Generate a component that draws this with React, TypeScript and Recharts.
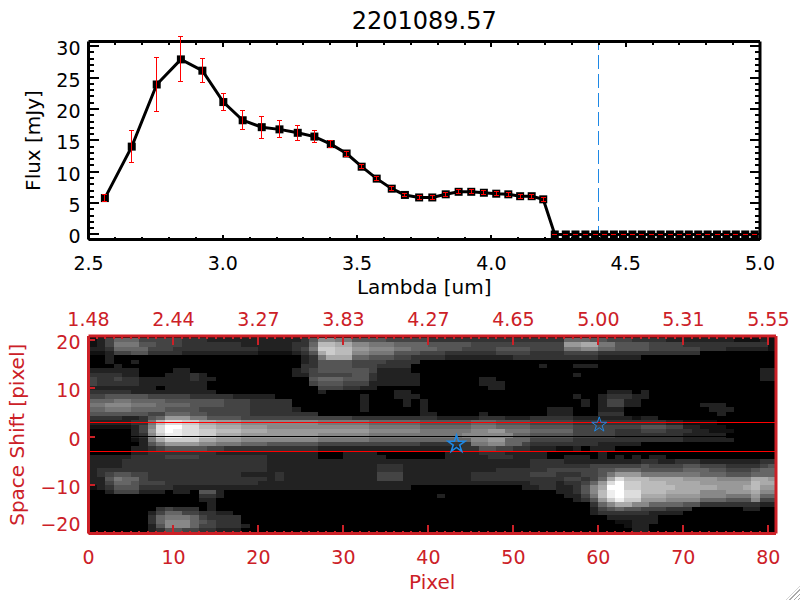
import React from 'react';
import { ComposedChart, Line, ErrorBar, XAxis, YAxis, ReferenceArea, ReferenceLine, Scatter, Symbols } from 'recharts';

// spectrum (top panel)
const lambdaValues = [
  2.561, 2.661, 2.754, 2.844, 2.924, 3.002, 3.074, 3.145, 3.211, 3.279, 3.341, 3.402, 3.461, 3.517, 3.573, 3.629,
  3.678, 3.731, 3.78, 3.83, 3.878, 3.925, 3.972, 4.018, 4.063, 4.107, 4.15, 4.193, 4.236, 4.277, 4.313, 4.35, 4.386,
  4.42, 4.456, 4.49, 4.525, 4.56, 4.595, 4.63, 4.665, 4.7, 4.735, 4.77, 4.805, 4.84, 4.875, 4.91, 4.945, 4.98,
];
const fluxValues = [
  5.8, 14.0, 23.9, 27.9, 26.1, 21.1, 18.2, 17.1, 16.75, 16.2, 15.6, 14.4, 12.9, 10.8, 8.9, 7.3,
  6.3, 5.9, 5.9, 6.4, 6.8, 6.8, 6.65, 6.5, 6.4, 6.1, 6.1, 5.6, 0, 0, 0, 0, 0,
  0, 0, 0, 0, 0, 0, 0, 0, 0, 0, 0, 0, 0, 0, 0, 0, 0,
];
const fluxErrors = [
  0.55, 2.5, 4.25, 3.6, 1.9, 1.3, 1.5, 1.75, 1.35, 1.2, 0.9, 0.6, 0.4, 0.35, 0.3, 0.3,
  0.3, 0.3, 0.3, 0.3, 0.3, 0.3, 0.3, 0.3, 0.3, 0.3, 0.3, 0.35, 0.01, 0.01, 0.01, 0.01, 0.01,
  0.01, 0.01, 0.01, 0.01, 0.01, 0.01, 0.01, 0.01, 0.01, 0.01, 0.01, 0.01, 0.01, 0.01, 0.01, 0.01, 0.01,
];
const lambdaMajor = [2.5, 3, 3.5, 4, 4.5, 5];
const lambdaTicks = [
  2.5, 2.6, 2.7, 2.8, 2.9, 3, 3.1, 3.2, 3.3, 3.4, 3.5, 3.6, 3.7, 3.8, 3.9, 4, 4.1, 4.2, 4.3, 4.4, 4.5, 4.6, 4.7, 4.8, 4.9, 5,
];
const fluxMajor = [0, 5, 10, 15, 20, 25, 30];
const fluxTicks = [
  0, 1, 2, 3, 4, 5, 6, 7, 8, 9, 10, 11, 12, 13, 14, 15, 16, 17, 18, 19, 20, 21, 22, 23, 24, 25, 26, 27, 28, 29, 30,
];

// 2D frame (bottom panel)
const pixelMajor = [0, 10, 20, 30, 40, 50, 60, 70, 80];
const pixelTicks = Array.from({ length: 81 }, (_, i) => i);
const waveLabels = ['1.48', '2.44', '3.27', '3.83', '4.27', '4.65', '5.00', '5.31', '5.55'];
const shiftTicks = [-20, -10, 0, 10, 20];
const starPoints = [{ x: 43.3, y: -1.5 }];
const faintStarPoints = [{ x: 60.1, y: 2.5 }];

// one list per image row, top to bottom: start column, grey level (0-15), start column, grey level, ...
const heatRows = [
  [0,1,1,2,2,4,3,6,6,4,11,3,14,2,25,3,26,5,27,8,29,7,31,5,35,4,40,3,56,6,59,5,61,4,64,3,68,2,76,1,79,2,80,1],
  [0,1,1,2,2,4,3,7,6,5,8,4,11,3,18,2,24,3,26,6,27,11,29,10,31,8,33,7,36,6,40,5,45,4,56,9,58,10,60,7,62,5,66,4,70,3,80,1],
  [0,2,2,3,3,6,7,4,10,3,20,2,24,3,25,4,26,7,27,12,29,11,31,9,33,8,36,7,38,6,41,5,44,4,48,5,52,4,56,7,58,8,60,6,62,5,66,4,72,3,75,2,80,1],
  [0,1,2,2,3,4,5,5,7,3,11,2,20,1,24,2,25,3,26,5,27,10,28,12,29,11,31,8,33,7,36,5,39,4,42,3,48,4,52,3,56,4,60,3,72,0],
  [2,2,3,0,25,2,26,3,27,7,28,10,31,6,33,5,36,4,38,3,42,2,50,3,56,3,60,2,65,0],
  [2,2,3,0,5,2,6,0,25,2,26,3,27,5,31,4,35,3,39,0],
  [3,2,4,0,25,3,27,5,31,4,34,3,38,0,53,2,54,0,57,2,60,0],
  [0,2,6,0,10,2,12,0,24,2,25,3,26,4,27,5,33,4,34,2,38,0,79,2,81,0],
  [0,3,4,2,6,0,9,2,12,3,13,2,14,0,24,2,26,4,31,5,33,3,34,2,39,0,57,2,58,0,79,2,81,0],
  [0,4,1,3,3,4,4,3,6,2,12,3,13,2,15,0,26,5,27,6,30,5,33,3,34,2,39,0,46,2,48,0,79,2,81,0],
  [0,4,1,3,6,2,14,0,26,4,27,5,30,4,33,2,39,0,46,2,49,0],
  [0,2,8,0,9,2,14,0,27,4,30,3,32,2,34,0,47,2,49,0],
  [0,3,5,2,15,0,27,2,28,0,36,2,38,0,61,2,64,0,65,2,66,0],
  [0,4,2,5,7,4,12,3,17,2,22,0,32,2,33,0,36,2,39,0,57,2,58,0,60,2,61,3,64,2,66,0],
  [0,6,3,7,5,6,9,5,16,4,19,3,24,0,32,2,33,0,37,2,38,0,39,2,40,0,58,2,59,0,60,2,61,4,63,2,65,0],
  [0,7,2,8,5,7,8,6,12,5,16,4,19,3,24,0,32,2,33,0,37,2,38,0,39,2,40,0,58,2,59,0,60,2,61,4,63,2,65,0,72,2,75,0],
  [0,6,2,7,5,6,9,5,13,4,19,3,24,2,25,0,32,2,33,0,39,2,40,0,54,2,57,0,60,2,63,0,73,2,76,0],
  [0,5,7,4,9,6,12,5,14,4,19,3,27,0,39,2,41,0,46,2,47,0,54,2,57,0,60,3,63,0,74,2,75,0],
  [0,3,4,2,6,3,7,5,8,6,9,9,12,7,14,5,18,4,31,3,41,2,46,3,49,2,52,3,57,2,64,1,65,2,67,0],
  [0,2,5,3,7,7,8,11,9,13,11,12,13,10,15,9,18,8,27,7,33,6,39,5,45,6,48,5,52,4,57,3,68,2,70,1,74,0],
  [0,1,5,2,6,4,7,8,8,13,9,15,11,13,13,11,15,10,18,9,21,8,33,7,39,6,45,7,48,6,52,5,57,4,65,5,68,4,70,2,72,1,75,0],
  [5,2,6,4,7,9,8,13,9,15,10,14,11,13,13,12,15,11,18,10,21,9,33,8,39,7,45,8,47,9,49,7,52,6,57,4,62,3,65,4,68,3,71,2,73,1,76,0],
  [5,2,6,3,7,8,8,12,9,14,11,13,13,12,15,10,18,9,27,8,33,7,44,8,50,6,52,5,57,4,62,3,70,2,75,0],
  [5,1,6,2,7,7,8,10,9,12,13,10,15,9,18,8,27,7,33,6,45,8,47,9,49,6,52,4,57,3,70,2,76,0],
  [6,2,7,5,8,7,9,9,13,8,15,7,18,6,21,5,27,4,39,3,45,7,47,8,49,6,51,4,52,3,60,2,65,0],
  [5,2,7,3,8,4,9,5,14,4,16,3,27,2,44,3,46,5,48,4,50,3,52,2,55,1,57,2,58,0,59,2,62,0],
  [5,2,7,3,15,2,27,0,30,2,34,0,42,2,46,3,49,2,54,0,60,2,61,0],
  [0,2,5,3,9,4,13,3,21,2,27,0,30,2,35,0,42,2,47,3,50,2,54,0,56,2,59,0,60,2,61,0,62,2,63,0,64,2,65,0,66,2,68,0],
  [0,2,4,3,21,2,52,3,56,2,65,3,67,2,69,3,72,2,79,3],
  [0,2,4,3,21,2,34,3,37,2,52,3,59,4,65,5,66,4,70,5,72,4,75,3,79,4,80,5],
  [0,2,1,3,21,2,34,3,37,2,48,3,54,4,60,5,62,6,65,5,70,6,73,5,75,4,78,5,79,6],
  [0,2,1,3,2,4,3,5,5,4,7,3,18,2,22,3,23,2,34,4,37,2,45,3,52,4,55,3,58,4,60,5,61,7,62,9,65,7,72,6,75,5,78,6],
  [0,2,2,5,3,7,4,6,6,4,7,3,21,2,22,3,23,2,34,4,37,2,45,3,56,4,58,3,59,4,60,6,61,10,62,13,63,11,66,10,70,9,74,8,78,10,80,9],
  [0,2,2,4,3,6,5,5,6,4,9,3,20,2,52,3,55,2,56,3,58,4,59,6,60,9,61,13,62,15,63,12,65,11,68,10,72,9,78,11,79,10],
  [0,1,1,2,2,3,3,5,6,3,10,2,38,0,51,2,53,3,55,2,57,3,58,5,59,8,60,10,61,15,63,12,65,11,69,10,74,9,77,10,78,11,79,9],
  [2,2,3,4,6,2,9,0,10,2,12,0,13,5,15,2,16,0,55,2,57,3,58,5,59,8,60,11,61,14,62,15,63,13,65,11,68,10,72,8,75,9,78,10,79,8],
  [13,3,15,2,16,0,41,2,42,0,56,2,58,4,59,7,60,11,61,14,62,15,63,13,65,10,68,9,72,8,75,7,78,9,79,6],
  [13,2,15,0,57,2,58,3,59,5,60,9,61,12,62,14,63,12,65,9,68,8,72,6,75,5,78,8,79,4],
  [14,2,15,0,59,3,60,6,61,8,62,10,64,8,66,6,70,5,72,3,79,2],
  [8,3,9,4,10,3,13,0,14,2,15,0,59,2,60,4,61,5,62,6,63,5,65,4,68,3,71,0,77,2,79,0],
  [7,2,8,4,9,6,11,4,13,3,15,2,17,0,59,2,60,3,66,2,70,0],
  [7,3,8,6,9,7,12,6,13,4,14,3,18,0,61,2,67,0],
  [7,3,8,6,9,8,12,6,13,5,14,4,15,3,18,0,62,1,64,2,67,0],
  [7,2,8,5,9,8,12,6,13,4,15,3,18,2,19,0,63,1,64,2,66,0],
  [7,2,8,3,9,5,11,4,13,3,15,2,18,0,64,2,66,0],
];

const RED = '#cc2027';
const BLUE = '#1e88e5';
const FONT = '"DejaVu Sans", sans-serif';
const PIXEL_MAX = 80.9;
const SHIFT_MIN = -20;
const SHIFT_MAX = 20.85;
const ROW_HEIGHT = 0.896;
const ROW_BOTTOM = -19.86;

const fluxTable = lambdaValues.map((lambda, i) => ({ lambda, flux: fluxValues[i], err: fluxErrors[i] }));

const heatCells = heatRows.flatMap((row, r) => {
  const cells: { x1: number; x2: number; y1: number; y2: number; fill: string }[] = [];
  for (let i = 0; i < row.length; i += 2) {
    if (row[i + 1] === 0) continue;
    const end = i + 2 < row.length ? row[i + 2] : 81;
    const g = row[i + 1] * 17;
    const top = ROW_BOTTOM + (heatRows.length - r) * ROW_HEIGHT;
    cells.push({
      x1: row[i],
      x2: Math.min(end, PIXEL_MAX),
      y1: top - ROW_HEIGHT,
      y2: Math.min(top, SHIFT_MAX),
      fill: `rgb(${g},${g},${g})`,
    });
  }
  return cells;
});

// Ticks point inwards, as IDL draws them, so the axes draw their own through a custom tick.
type TickOpts = {
  side: 'bottom' | 'top' | 'left' | 'right';
  color: string;
  major: number[];
  majorLen: number;
  minorLen: number;
  text?: (v: number) => string;
};

function axisTick({ side, color, major, majorLen, minorLen, text }: TickOpts) {
  return (p: any) => {
    const v = p.payload.value;
    const isMajor = major.includes(v);
    const len = isMajor ? majorLen : minorLen;
    const dx = side === 'left' ? len : side === 'right' ? -len : 0;
    const dy = side === 'bottom' ? -len : side === 'top' ? len : 0;
    const label = text && isMajor ? text(v) : null;
    const common = { fill: color, fontSize: 19, fontFamily: FONT };
    return (
      <g>
        <line x1={p.x} y1={p.y} x2={p.x + dx} y2={p.y + dy} stroke={color} strokeWidth={2} shapeRendering="crispEdges" />
        {label && side === 'bottom' && <text x={p.x} y={p.y + 30} textAnchor="middle" {...common}>{label}</text>}
        {label && side === 'top' && <text x={p.x} y={p.y - 10} textAnchor="middle" {...common}>{label}</text>}
        {label && side === 'left' && (
          <text x={p.x - 8} y={p.y + (v === -20 ? -2.5 : 9)} textAnchor="end" {...common}>{label}</text>
        )}
      </g>
    );
  };
}

// recharts anchors a rotated 'left' label at its end, so centre it on the axis by hand
const sideLabel = (value: string, x: number, color: string) => (p: any) => {
  const cy = p.viewBox.y + p.viewBox.height / 2;
  return (
    <text x={x} y={cy} transform={`rotate(-90 ${x} ${cy})`} textAnchor="middle" dominantBaseline="central"
      fill={color} fontSize={20} fontFamily={FONT}>{value}</text>
  );
};

const SquareDot = (p: any) => <rect key={p.index} x={p.cx - 4} y={p.cy - 4} width={8} height={8} fill="#000" />;
const NoMark = () => null;

const starShape = (strokeWidth: number, size: number) => (p: any) => (
  <Symbols type="star" size={size} cx={p.cx} cy={p.cy} fill="none" stroke={BLUE} strokeWidth={strokeWidth} />
);

const labelStyle = (color: string, fontSize: number) => ({ fill: color, fontSize, fontFamily: FONT });

function SpectrumPanel() {
  const frame = { stroke: '#000', strokeWidth: 3 };
  return (
    <ComposedChart width={800} height={300} data={fluxTable} margin={{ top: 40.5, right: 39, bottom: 59.5, left: 87.5 }}
      style={{ position: 'absolute', left: 0, top: 0 }}>
      <XAxis dataKey="lambda" type="number" domain={[2.5, 5]} ticks={lambdaTicks} interval={0} height={1}
        tickSize={0} tickMargin={0} tickLine={false} axisLine={frame}
        tick={axisTick({ side: 'bottom', color: '#000', major: lambdaMajor, majorLen: 5, minorLen: 3, text: (v) => v.toFixed(1) })}
        label={{ value: 'Lambda [um]', position: 'bottom', offset: 39, ...labelStyle('#000', 20) }} />
      <XAxis xAxisId="top" dataKey="lambda" orientation="top" type="number" domain={[2.5, 5]} ticks={lambdaTicks} interval={0} height={1}
        tickSize={0} tickMargin={0} tickLine={false} axisLine={frame}
        tick={axisTick({ side: 'top', color: '#000', major: lambdaMajor, majorLen: 5, minorLen: 3 })}
        label={{ value: '2201089.57', position: 'top', offset: 12, ...labelStyle('#000', 24) }} />
      <YAxis type="number" domain={[-0.8, 30.75]} ticks={fluxTicks} interval={0} width={1} allowDataOverflow
        tickSize={0} tickMargin={0} tickLine={false} axisLine={frame}
        tick={axisTick({ side: 'left', color: '#000', major: fluxMajor, majorLen: 10, minorLen: 5, text: (v) => String(v) })}
        label={{ content: sideLabel('Flux [mJy]', 33, '#000') }} />
      <YAxis yAxisId="right" orientation="right" type="number" domain={[-0.8, 30.75]} ticks={fluxTicks} interval={0} width={1} allowDataOverflow
        tickSize={0} tickMargin={0} tickLine={false} axisLine={frame}
        tick={axisTick({ side: 'right', color: '#000', major: fluxMajor, majorLen: 10, minorLen: 5 })} />
      <ReferenceLine x={4.4} stroke={BLUE} strokeWidth={1} strokeDasharray="14 5" shapeRendering="crispEdges" />
      <Line dataKey="flux" stroke="#000" strokeWidth={3} dot={SquareDot} isAnimationActive={false} />
      <Line xAxisId="top" yAxisId="right" dataKey="flux" stroke="none" dot={false} isAnimationActive={false} />
    </ComposedChart>
  );
}

// Recharts puts error bars under the dots, so they get their own layer on top of the squares.
function SpectrumErrors() {
  return (
    <ComposedChart width={800} height={300} data={fluxTable} margin={{ top: 41.5, right: 40, bottom: 60.5, left: 88.5 }}
      style={{ position: 'absolute', left: 0, top: 0 }}>
      <XAxis dataKey="lambda" type="number" domain={[2.5, 5]} hide />
      <YAxis type="number" domain={[-0.8, 30.75]} allowDataOverflow hide />
      <Line dataKey="flux" stroke="none" dot={false} isAnimationActive={false}>
        <ErrorBar dataKey="err" direction="y" width={2.5} stroke="#ff0000" strokeWidth={1} isAnimationActive={false} shapeRendering="crispEdges" />
      </Line>
    </ComposedChart>
  );
}

// The image goes in its own chart: reference areas paint over the axes of the chart they are in.
function FrameImage() {
  return (
    <ComposedChart width={800} height={300} margin={{ top: 36, right: 24, bottom: 66.5, left: 88.5 }}
      style={{ position: 'absolute', left: 0, top: 300 }}>
      <XAxis dataKey="x" type="number" domain={[0, PIXEL_MAX]} allowDataOverflow hide />
      <YAxis dataKey="y" type="number" domain={[SHIFT_MIN, SHIFT_MAX]} allowDataOverflow hide />
      <ReferenceArea x1={0} x2={PIXEL_MAX} y1={SHIFT_MIN} y2={SHIFT_MAX} fill="#000" fillOpacity={1} stroke="none" ifOverflow="hidden" />
      {heatCells.map((c, i) => (
        <ReferenceArea key={i} x1={c.x1} x2={c.x2} y1={c.y1} y2={c.y2} fill={c.fill} fillOpacity={1} stroke="none"
          ifOverflow="hidden" shapeRendering="crispEdges" />
      ))}
      <Scatter data={starPoints} shape={NoMark} isAnimationActive={false} />
    </ComposedChart>
  );
}

function FrameAxes() {
  const frame = { stroke: RED, strokeWidth: 3 };
  return (
    <ComposedChart width={800} height={300} margin={{ top: 35, right: 23, bottom: 65.5, left: 87.5 }}
      style={{ position: 'absolute', left: 0, top: 300 }}>
      <XAxis dataKey="x" type="number" domain={[0, PIXEL_MAX]} ticks={pixelTicks} interval={0} height={1} allowDataOverflow
        tickSize={0} tickMargin={0} tickLine={false} axisLine={frame}
        tick={axisTick({ side: 'bottom', color: RED, major: pixelMajor, majorLen: 9, minorLen: 3, text: (v) => String(v) })}
        label={{ value: 'Pixel', position: 'bottom', offset: 40, ...labelStyle(RED, 20) }} />
      <XAxis xAxisId="top" dataKey="x" orientation="top" type="number" domain={[0, PIXEL_MAX]} ticks={pixelTicks} interval={0} height={1} allowDataOverflow
        tickSize={0} tickMargin={0} tickLine={false} axisLine={frame}
        tick={axisTick({ side: 'top', color: RED, major: pixelMajor, majorLen: 9, minorLen: 3, text: (v) => waveLabels[pixelMajor.indexOf(v)] })} />
      <YAxis dataKey="y" type="number" domain={[SHIFT_MIN, SHIFT_MAX]} ticks={shiftTicks} interval={0} width={1} allowDataOverflow
        tickSize={0} tickMargin={0} tickLine={false} axisLine={frame}
        tick={axisTick({ side: 'left', color: RED, major: shiftTicks, majorLen: 6, minorLen: 6, text: (v) => String(v).replace('-', '\u2212') })}
        label={{ content: sideLabel('Space Shift [pixel]', 17, RED) }} />
      <YAxis yAxisId="right" dataKey="y" orientation="right" type="number" domain={[SHIFT_MIN, SHIFT_MAX]} ticks={[]} width={1} allowDataOverflow
        tickSize={0} tickLine={false} tick={false} axisLine={frame} />
      <ReferenceLine y={0} stroke="#000" strokeWidth={1} shapeRendering="crispEdges" />
      <ReferenceLine y={3} stroke="#ff0000" strokeWidth={1} shapeRendering="crispEdges" />
      <ReferenceLine y={-3} stroke="#ff0000" strokeWidth={1} shapeRendering="crispEdges" />
      <Scatter data={starPoints} shape={starShape(1.6, 90)} isAnimationActive={false} />
      <Scatter data={faintStarPoints} shape={starShape(1, 70)} isAnimationActive={false} />
      <Scatter xAxisId="top" yAxisId="right" data={starPoints} shape={NoMark} isAnimationActive={false} />
    </ComposedChart>
  );
}

export default function App() {
  return (
    <div style={{ position: 'absolute', left: 0, top: 0, width: 800, height: 600, background: '#fff' }}>
      <SpectrumPanel />
      <SpectrumErrors />
      <FrameImage />
      <FrameAxes />
      {/* window resize grip in the bottom right corner of the screenshot */}
      <div style={{
        position: 'absolute', right: 0, bottom: 0, width: 14, height: 14,
        clipPath: 'polygon(100% 0, 100% 100%, 0 100%)',
        background: 'repeating-linear-gradient(135deg, #aaa 0 1px, #fff 1px 3px)',
      }} />
    </div>
  );
}
